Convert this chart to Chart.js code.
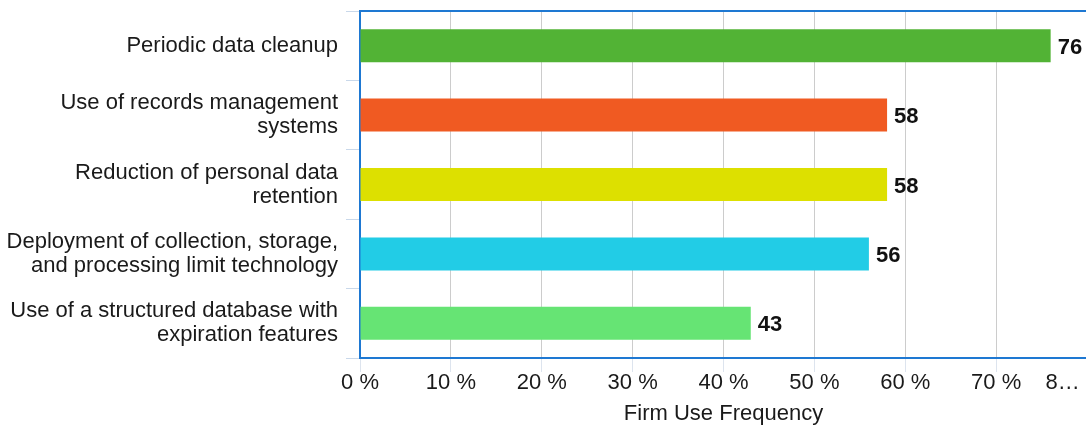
<!DOCTYPE html>
<html>
<head>
<meta charset="utf-8">
<script src="https://cdn.jsdelivr.net/npm/chart.js@4/dist/chart.umd.min.js"></script>
<style>
  html, body { margin: 0; padding: 0; background: #fff; overflow: hidden; }
  #wrap { position: relative; width: 1100px; height: 428px; }
</style>
</head>
<body>
<div id="wrap"><canvas id="usageChart"></canvas></div>
<script>
// data
const categories = [
  ['Periodic data cleanup'],
  ['Use of records management', 'systems'],
  ['Reduction of personal data', 'retention'],
  ['Deployment of collection, storage,', 'and processing limit technology'],
  ['Use of a structured database with', 'expiration features']
];
const frequency = [76, 58, 58, 56, 43];
const barColors = ['#52b335', '#f05a22', '#dde000', '#22cce6', '#66e474'];
const xTicks = [0, 10, 20, 30, 40, 50, 60, 70, 80];
const xTickLabels = ['0 %', '10 %', '20 %', '30 %', '40 %', '50 %', '60 %', '70 %', '8\u2026'];

const FONT = "'Liberation Sans', Arial, Helvetica, sans-serif";
const AXIS_BLUE = '#1e78d2';

// numbers at the end of each bar
const valueLabels = {
  id: 'valueLabels',
  afterDatasetsDraw(chart) {
    const ctx = chart.ctx;
    const meta = chart.getDatasetMeta(0);
    ctx.save();
    ctx.font = 'bold 22px ' + FONT;
    ctx.fillStyle = '#111';
    ctx.textAlign = 'left';
    ctx.textBaseline = 'middle';
    meta.data.forEach((bar, i) => {
      ctx.fillText(String(frequency[i]), bar.x + 7, bar.y + 2);
    });
    ctx.restore();
  }
};

// blue frame line along the top of the plot area
const topFrame = {
  id: 'topFrame',
  afterDraw(chart) {
    const a = chart.chartArea;
    const ctx = chart.ctx;
    ctx.save();
    ctx.strokeStyle = AXIS_BLUE;
    ctx.lineWidth = 2;
    ctx.beginPath();
    ctx.moveTo(a.left - 1, a.top);
    ctx.lineTo(a.right, a.top);
    ctx.stroke();
    ctx.restore();
  }
};

new Chart(document.getElementById('usageChart'), {
  type: 'bar',
  data: {
    labels: categories,
    datasets: [{
      data: frequency,
      backgroundColor: barColors,
      borderWidth: 0,
      categoryPercentage: 1,
      barPercentage: 0.475
    }]
  },
  options: {
    indexAxis: 'y',
    responsive: true,
    maintainAspectRatio: false,
    animation: false,
    layout: { padding: { top: 11, right: 13, left: 0, bottom: 0 } },
    plugins: { legend: { display: false }, tooltip: { enabled: false } },
    scales: {
      x: {
        min: 0,
        max: 80,
        afterBuildTicks: (scale) => { scale.ticks = xTicks.map(v => ({ value: v })); },
        afterFit: (scale) => {
          scale.height = 70;
          scale.paddingLeft = 0;
          scale.paddingRight = 0;
        },
        grid: {
          color: '#cccccc',
          lineWidth: 1,
          drawTicks: true,
          tickLength: 14,
          tickColor: '#dde4ee'
        },
        border: { display: true, color: AXIS_BLUE, width: 2 },
        ticks: {
          autoSkip: false,
          maxRotation: 0,
          padding: 0,
          color: '#1a1a1a',
          font: { family: FONT, size: 22, lineHeight: 1 },
          callback: (v, i) => i === xTicks.length - 1
            ? xTickLabels[i] + '\u00a0'.repeat(8)
            : xTickLabels[i]
        },
        title: {
          display: true,
          text: 'Firm Use Frequency',
          color: '#1a1a1a',
          font: { family: FONT, size: 22, lineHeight: 1 },
          padding: { top: 0, bottom: 3 }
        }
      },
      y: {
        afterFit: (scale) => {
          scale.width = 360;
          scale.paddingTop = 0;
          scale.paddingBottom = 0;
        },
        grid: {
          offset: true,
          drawOnChartArea: false,
          drawTicks: true,
          tickLength: 14,
          color: '#c9d8ea'
        },
        border: { display: true, color: AXIS_BLUE, width: 2 },
        ticks: {
          padding: 8,
          color: '#1a1a1a',
          font: { family: FONT, size: 22, lineHeight: 1.09 }
        }
      }
    }
  },
  plugins: [valueLabels, topFrame]
});
</script>
</body>
</html>
